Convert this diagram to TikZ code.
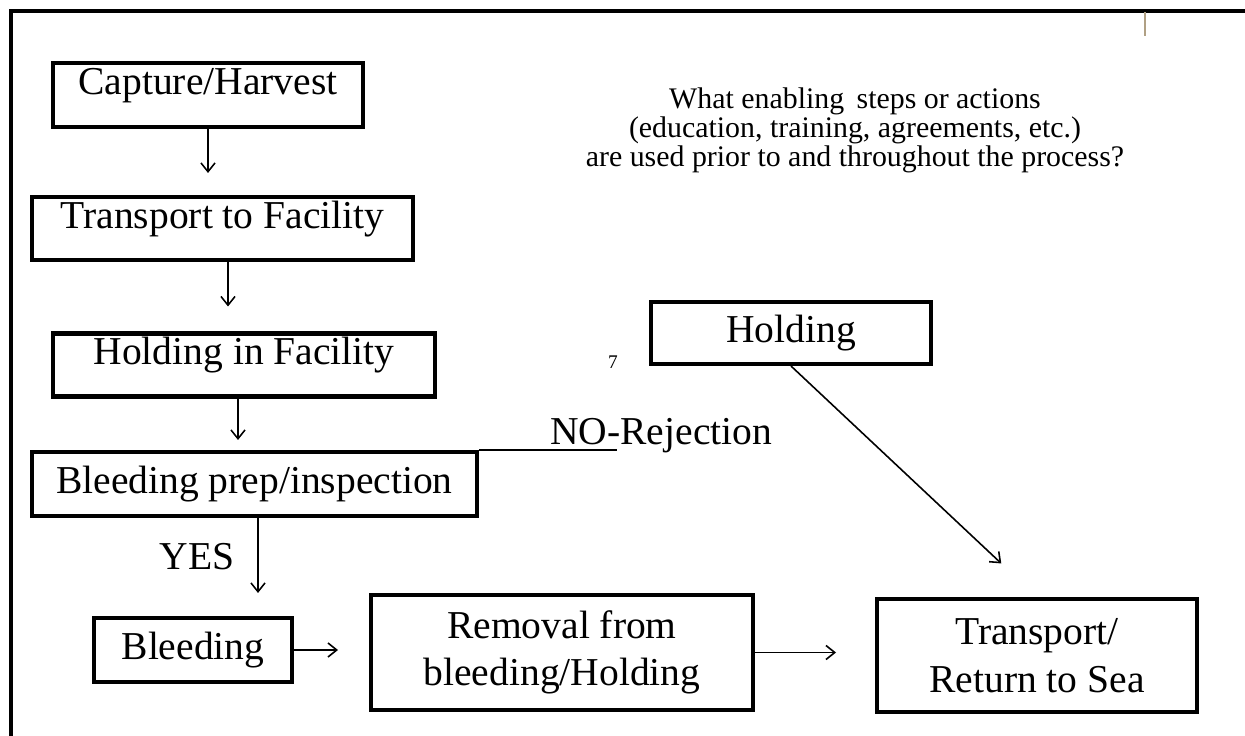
\documentclass[tikz,border=0pt]{standalone}
\usepackage{fontspec}
\setmainfont{Liberation Serif}
\usepackage{xcolor}
\usetikzlibrary{arrows.meta}
\definecolor{tickbrown}{RGB}{176,160,132}

\begin{document}
\begin{tikzpicture}[x=0.02cm,y=-0.02cm,
        stepbox/.style={draw,line width=2.3pt,inner sep=0pt,align=center,font=\fontsize{22.5}{27}\selectfont},
        midline/.style={text height=9pt,text depth=9pt},
        flow/.style={-{Straight Barb[length=5pt,width=8pt]},line width=0.9pt},
        note/.style={inner sep=0pt,font=\fontsize{22.5}{27}\selectfont}]
        \useasboundingbox (0,0) rectangle (1245,736);
        \draw[line width=2pt] (11,736) -- (11,11) -- (1245,11);
        \draw[line width=1.4pt,tickbrown] (1145,12) -- (1145,36);

        % left column
        \node[stepbox,midline,minimum width=6.2cm,minimum height=1.28cm] (cap) at (208,95) {Capture/Harvest};
        \node[stepbox,midline,minimum width=7.62cm,minimum height=1.26cm] (tra) at (222.5,228.5) {Transport to Facility};
        \node[stepbox,midline,minimum width=7.64cm,minimum height=1.26cm] (hif) at (244,365) {Holding in Facility};
        \node[stepbox,minimum width=8.9cm,minimum height=1.28cm] (prep) at (254.5,484) {Bleeding prep/inspection};
        \node[stepbox,minimum width=3.96cm,minimum height=1.28cm] (bleed) at (193,650) {Bleeding};

        % bottom row and right side
        \node[stepbox,minimum width=7.64cm,minimum height=2.3cm] (rem) at (562,652.5) {Removal from\\bleeding/Holding};
        \node[stepbox,minimum width=6.4cm,minimum height=2.26cm] (ret) at (1037,655.5) {Transport/\\Return to Sea};
        \node[stepbox,minimum width=5.6cm,minimum height=1.24cm] (hold) at (791,333) {Holding};

        \node[align=center,inner sep=0pt,font=\fontsize{17}{16.5}\selectfont] (ask) at (855,130)
            {What enabling\, steps or actions\\(education, training, agreements, etc.)\\are used prior to and throughout the process?};
        \node[inner sep=0pt,font=\fontsize{11}{11}\selectfont] (seven) at (613,362) {7};
        \node[note,anchor=base west] (no) at (550,445) {NO-Rejection};
        \node[note] (yes) at (197,557) {YES};
        \coordinate (rejend) at (617,452);

        \draw[line width=0.9pt] (prep.north east) -- (prep.north east -| rejend);
        \draw[flow,shorten >=0.44cm] (cap.south) -- (cap.south |- tra.north);
        \draw[flow,shorten >=0.5cm] ([xshift=0.11cm]tra.south) -- ([xshift=0.11cm]tra.south |- hif.north);
        \draw[flow,shorten >=0.2cm] ([xshift=-0.12cm]hif.south) -- ([xshift=-0.12cm]hif.south |- prep.north);
        \draw[flow,shorten >=0.46cm] ([xshift=0.07cm]prep.south) -- ([xshift=0.07cm]prep.south |- bleed.north);
        \draw[flow,shorten >=0.62cm] (bleed.east) -- (bleed.east -| rem.west);
        \draw[flow,shorten >=0.78cm] (rem.east) -- (rem.east -| ret.west);
        \draw[flow,shorten >=0.98cm] (hold.south) -- (ret.north);
\end{tikzpicture}
\end{document}
